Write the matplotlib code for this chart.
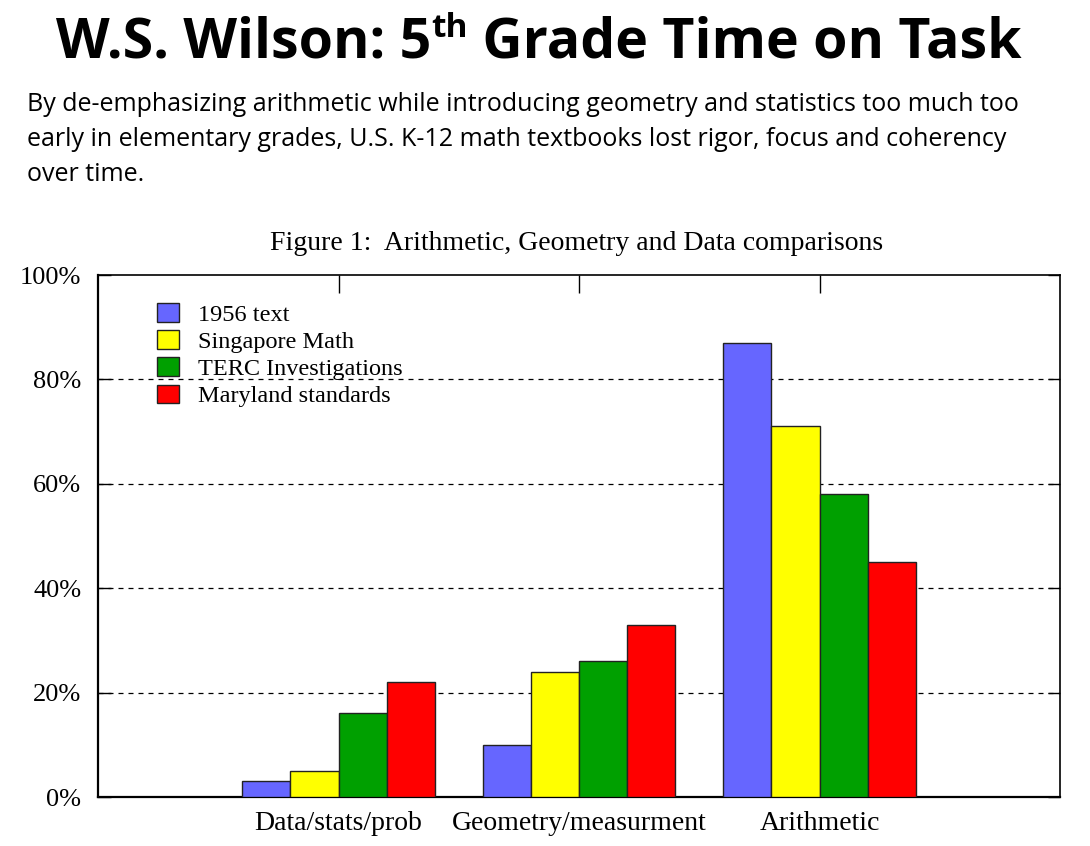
import matplotlib
matplotlib.use("Agg")
import matplotlib.pyplot as plt
import numpy as np
from matplotlib.patches import Patch

categories = ["Data/stats/prob", "Geometry/measurment", "Arithmetic"]
series_names = ["1956 text", "Singapore Math", "TERC Investigations", "Maryland standards"]
values_1956 = [3, 10, 87]
values_singapore = [5, 24, 71]
values_terc = [16, 26, 58]
values_maryland = [22, 33, 45]
yticks = [0, 20, 40, 60, 80, 100]
ytick_labels = ["0%", "20%", "40%", "60%", "80%", "100%"]
colors = ["#6666ff", "#ffff00", "#00a000", "#ff0000"]

series = [values_1956, values_singapore, values_terc, values_maryland]

W, H = 1090, 846
fig = plt.figure(figsize=(W/100, H/100), dpi=100)
ax = fig.add_axes([98/W, 1-797/H, (1060-98)/W, (797-275)/H])

serif = "Liberation Serif"
x = np.arange(len(categories))
bw = 0.2
for i, (vals, c, name) in enumerate(zip(series, colors, series_names)):
    ax.bar(x + (i-1.5)*bw, vals, width=bw, color=c, edgecolor="#222222", linewidth=1.0, zorder=3, label=name)

ax.set_xlim(-1, 3)
ax.set_ylim(0, 100)
ax.set_yticks(yticks)
ax.set_yticklabels(ytick_labels, fontfamily=serif, fontsize=19)
ax.set_xticks(x)
ax.set_xticklabels(categories, fontfamily=serif, fontsize=20)
ax.tick_params(axis="x", which="both", bottom=False, top=True, direction="in", length=13, width=1, pad=10)
ax.tick_params(axis="y", which="both", left=True, right=True, direction="in", length=9, width=1, pad=12)
for yv in yticks[1:-1]:
    ax.axhline(yv, color="black", linestyle=(0, (4, 4)), linewidth=0.9, zorder=1)
for s in ax.spines.values():
    s.set_linewidth(1.2)
ax.spines["left"].set_linewidth(1.6)
ax.spines["bottom"].set_linewidth(1.6)

handles = [Patch(facecolor=c, edgecolor="#222222", linewidth=1.0) for c in colors]
leg = ax.legend(handles, series_names, loc="upper left", bbox_to_anchor=(59/962, 0.946),
                frameon=False, prop={"family": serif, "size": 17.5},
                handlelength=0.9, handleheight=0.8, handletextpad=0.8, labelspacing=0.18,
                borderaxespad=0, borderpad=0)

fig.text(577/W, 1-244/H, "Figure 1:  Arithmetic, Geometry and Data comparisons",
         ha="center", va="center", fontfamily=serif, fontsize=20)

# Title with superscript
tfont = dict(fontfamily="Open Sans", fontweight="bold")
fig.canvas.draw()
r = fig.canvas.get_renderer()
p1 = "W.S. Wilson: 5"
p2 = "th"
p3 = " Grade Time on Task"
base_y = 1-57/H
size = 40
t1 = fig.text(0, base_y, p1, fontsize=size, va="baseline", ha="left", **tfont)
t2 = fig.text(0, base_y, p2, fontsize=size*0.6, va="baseline", ha="left", **tfont)
t3 = fig.text(0, base_y, p3, fontsize=size, va="baseline", ha="left", **tfont)
w1 = t1.get_window_extent(r).width
w2 = t2.get_window_extent(r).width
w3 = t3.get_window_extent(r).width
total = w1 + w2 + w3
x0 = 539 - total/2
t1.set_x(x0/W)
t2.set_x((x0+w1)/W)
t2.set_y(base_y + 20/H)
t3.set_x((x0+w1+w2)/W)

sub = ("By de-emphasizing arithmetic while introducing geometry and statistics too much too\n"
       "early in elementary grades, U.S. K-12 math textbooks lost rigor, focus and coherency\n"
       "over time.")
fig.text(27/W, 1-92/H, sub, ha="left", va="top", fontfamily="Open Sans", fontsize=18, linespacing=1.52)

fig.savefig("out.png", dpi=100)
